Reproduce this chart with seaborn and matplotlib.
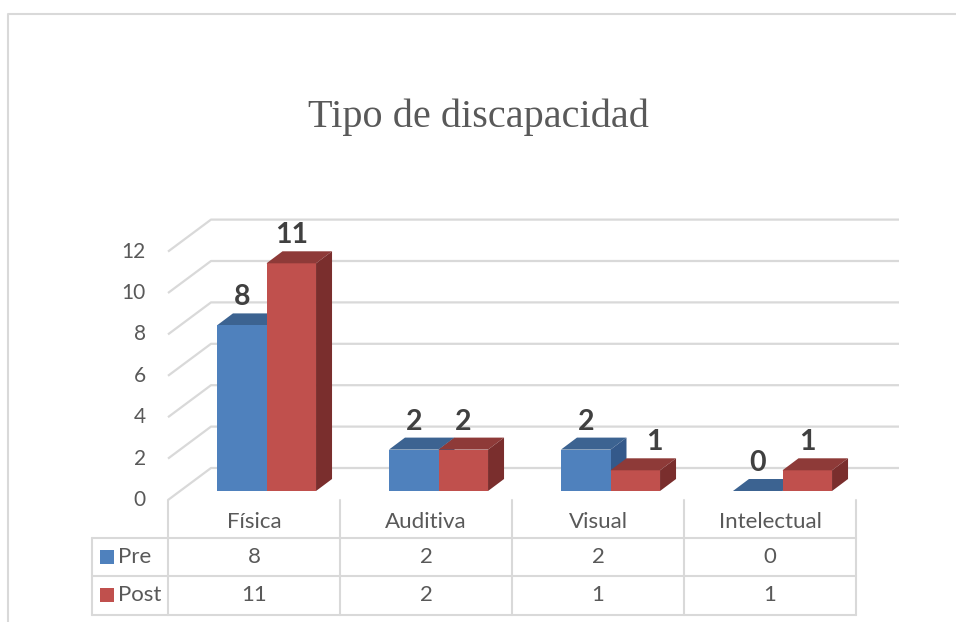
import matplotlib
matplotlib.use("Agg")
import matplotlib.pyplot as plt
import seaborn as sns
import pandas as pd
from matplotlib.patches import Polygon

# ---- data ----
categories = ["Física", "Auditiva", "Visual", "Intelectual"]
series_names = ["Pre", "Post"]
pre_values = [8, 2, 2, 0]
post_values = [11, 2, 1, 1]
y_ticks = [0, 2, 4, 6, 8, 10, 12]
title = "Tipo de discapacidad"

sns.set_theme(style="white")
plt.rcParams["font.family"] = ["Lato", "DejaVu Sans"]

W, H = 956, 622
fig = plt.figure(figsize=(W / 100, H / 100), dpi=100)

# pixel mapping for main axes: category unit = 172 px, value unit = 20.7 px
XU, YU = 172.0, 20.7
X0PX, Y0PX = 266.5, 491.0
ax = fig.add_axes([0, 0, 1, 1])

df = pd.DataFrame({
    "cat": categories * 2,
    "serie": [series_names[0]] * 4 + [series_names[1]] * 4,
    "val": pre_values + post_values,
})
front = {"Pre": "#4F81BD", "Post": "#C0504D"}
top_c = {"Pre": "#3C6391", "Post": "#8E3A38"}
side_c = {"Pre": "#34598A", "Post": "#7A2E2D"}

sns.barplot(data=df, x="cat", y="val", hue="serie", order=categories,
            hue_order=series_names, palette=front, width=0.576, saturation=1,
            linewidth=0, legend=False, ax=ax)

ax.set_xlim(-X0PX / XU, (W - X0PX) / XU)
ax.set_ylim((Y0PX - H) / YU, Y0PX / YU)
ax.set_axis_off()

# depth of bars and of the wall (in data units)
bdx, bdy = 16 / XU, 12 / YU
wfx, wfy = (168 - X0PX) / XU, (Y0PX - 500) / YU     # front-left floor corner
wdx, wdy = 43 / XU, 32 / YU
wright = (899 - X0PX) / XU

grid_col = "#D9D9D9"
for v in y_ticks:
    ax.plot([wfx, wfx + wdx, wright], [v + wfy, v + wfy + wdy, v + wfy + wdy],
            color=grid_col, lw=1.6, zorder=0.5, solid_capstyle="butt")
    ax.text(wfx - 0.13, v + wfy, str(v), ha="right", va="center",
            fontsize=15, color="#595959")

# 3D faces
label_dx = {("Visual", "Post"): 19 / XU}
n = len(categories)
for k, p in enumerate(ax.patches):
    s = series_names[k // n]
    c = categories[k % n]
    x, w, h = p.get_x(), p.get_width(), p.get_height()
    zf = 3 if s == "Pre" else 4
    zs = 2 if s == "Pre" else 4
    p.set_zorder(zf)
    ax.add_patch(Polygon([[x, h], [x + w, h], [x + w + bdx, h + bdy], [x + bdx, h + bdy]],
                         closed=True, facecolor=top_c[s], edgecolor="none", zorder=zs))
    if h > 0:
        ax.add_patch(Polygon([[x + w, 0], [x + w + bdx, bdy], [x + w + bdx, h + bdy], [x + w, h]],
                             closed=True, facecolor=side_c[s], edgecolor="none", zorder=zs))
    ax.text(x + w / 2 + label_dx.get((c, s), 0), h + 28 / YU, f"{h:g}",
            ha="center", va="center", fontsize=20.5, fontweight="bold",
            color="#404040", zorder=6)

# ---- overlay in pixel coordinates: frame, title, data table ----
ov = fig.add_axes([0, 0, 1, 1], facecolor="none")
ov.set_xlim(0, W)
ov.set_ylim(H, 0)
ov.set_axis_off()

ov.plot([8, 8, W], [H, 14, 14], color="#D9D9D9", lw=1.5)
ov.text(478, 117, title, ha="center", va="center", fontsize=29,
        family=["Liberation Serif", "DejaVu Serif"], color="#595959")

tcol = "#D9D9D9"
col_edges = [168, 340, 512, 684, 856]
for xe in col_edges:
    ov.plot([xe, xe], [500, 615], color=tcol, lw=1.5)
ov.plot([92, 92], [538, 615], color=tcol, lw=1.5)
for ye in [538, 576, 615]:
    ov.plot([92, 856], [ye, ye], color=tcol, lw=1.5)

for i, c in enumerate(categories):
    xc = (col_edges[i] + col_edges[i + 1]) / 2
    ov.text(xc, 522, c, ha="center", va="center", fontsize=16, color="#595959")
    ov.text(xc, 557, f"{pre_values[i]}", ha="center", va="center", fontsize=16, color="#595959")
    ov.text(xc, 595, f"{post_values[i]}", ha="center", va="center", fontsize=16, color="#595959")

for ry, s in zip([557, 595], series_names):
    ov.add_patch(plt.Rectangle((100, ry - 7), 14, 14, facecolor=front[s], edgecolor="none"))
    ov.text(118, ry, s, ha="left", va="center", fontsize=16, color="#595959")

fig.savefig("out.png", dpi=100)
